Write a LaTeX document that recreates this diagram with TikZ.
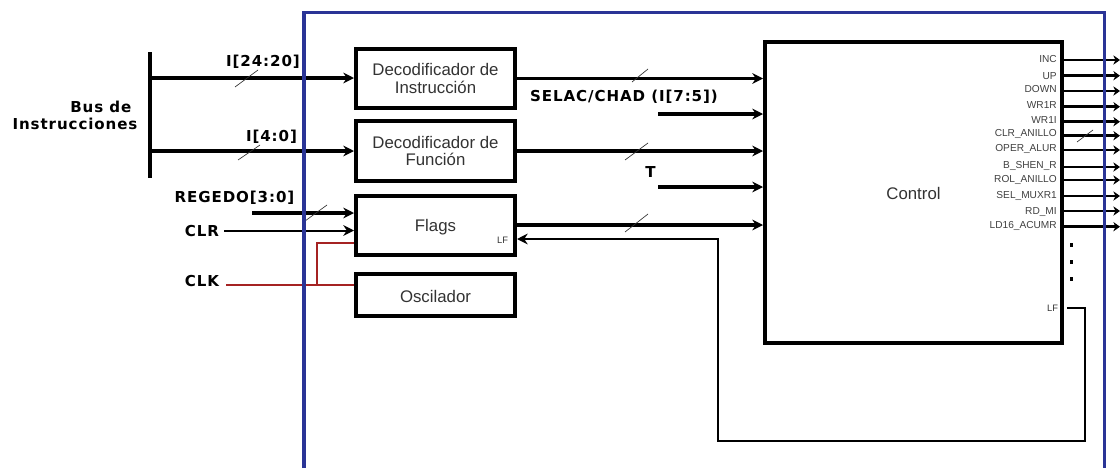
\documentclass[tikz,border=0pt]{standalone}
\usepackage{fontspec}
\setmainfont{Liberation Sans}
\newfontfamily\signalfont[LetterSpace=6]{DejaVu Sans}
\usetikzlibrary{arrows.meta, calc}

\definecolor{chipblue}{RGB}{42,52,150}
\definecolor{clockred}{RGB}{165,35,35}

\tikzset{
    blockbox/.style={draw, line width=3pt, minimum width=119.25pt, inner sep=0pt, align=center, font=\fontsize{12.6}{13.2}\selectfont, text=black!80},
    signal/.style={inner sep=0pt, font=\signalfont\bfseries\fontsize{11.3}{13}\selectfont},
    outlabel/.style={anchor=east, inner sep=0pt, font=\fontsize{7.6}{9}\selectfont, text=black!75},
    smallf/.style={inner sep=0pt, font=\fontsize{7}{8}\selectfont, text=black!80},
    busline/.style={line width=2.8pt, -{Stealth[length=8pt, width=8pt]}},
    thinline/.style={line width=1.5pt, -{Stealth[length=8pt, width=8pt]}},
    clkline/.style={line width=1.5pt, draw=clockred},
    slash/.style={line width=0.5pt, black!80}
}

\begin{document}
\begin{tikzpicture}[x=0.75pt, y=-0.75pt, >=Stealth]
    % ================= Parameters =================
    \def\W{1120}       % Canvas width
    \def\H{468}        % Canvas height
    \def\Xb{304}       % Left side of the chip frame
    \def\Xr{1104.5}    % Right side of the chip frame
    \def\Yt{12.5}      % Top side of the chip frame

    \path[use as bounding box] (0, 0) rectangle (\W, \H);
    \fill[white] (0, 0) rectangle (\W, \H);

    % ================= Blocks =================
    \node[blockbox, minimum height=44.25pt] (dinstr) at (435.5, 78.5) {Decodificador de\\Instrucción};
    \node[blockbox, minimum height=45pt] (dfunc) at (435.5, 151) {Decodificador de\\Función};
    \node[blockbox, minimum height=44.25pt, text height=11pt, text depth=2pt] (flags) at (435.5, 225) {Flags};
    \node[blockbox, minimum height=31.5pt, text height=11pt, text depth=0pt] (osc) at (435.5, 295) {Oscilador};
    \node[blockbox, minimum width=222.75pt, minimum height=226pt, text height=11pt, text depth=0pt] (ctrl) at (913.5, 192.2) {Control};

    \node[smallf] (flagslf) at (502.5, 240.5) {LF};
    \node[smallf] (ctrllf) at (1052.5, 308) {LF};

    % ================= Signal labels =================
    \node[signal, align=right] (busi) at (75, 115.5) {Bus de\hspace*{4.5pt}\\Instrucciones};
    \node[signal] (ihigh) at (263, 62) {I[24:20]};
    \node[signal] (ilow) at (271.5, 137) {I[4:0]};
    \node[signal] (regedo) at (234.5, 197.5) {REGEDO[3:0]};
    \node[signal] (clr) at (202, 231) {CLR};
    \node[signal] (clk) at (202, 281.5) {CLK};
    \node[signal] (selac) at (624, 96.5) {SELAC/CHAD (I[7:5])};
    \node[signal] (tsig) at (650.5, 172) {T};

    % ================= Free ends =================
    \coordinate (busup) at (150, 52);
    \coordinate (busdn) at (150, 178);
    \coordinate (bushigh) at (150, 78);
    \coordinate (buslow) at (150, 151);
    \coordinate (regin) at (252, 213);
    \coordinate (selacin) at (658, 114);
    \coordinate (tin) at (658, 187);
    \coordinate (clkbr) at (317, 285);
    \coordinate (clkup) at (317, 243);
    \coordinate (lfout) at (1067, 308);
    \coordinate (lfr) at (1085, 308);
    \coordinate (lfbr) at (1085, 441);
    \coordinate (lfbl) at (718, 441);
    \coordinate (lftl) at (718, 239);

    % ================= Inputs =================
    \draw[line width=3pt] (busup) -- (busdn);
    \draw[busline] (bushigh) -- (bushigh -| dinstr.west);
    \draw[busline] (buslow) -- (buslow -| dfunc.west);
    \draw[busline] (regin) -- (regin -| flags.west);
    \draw[thinline] (clr.east |- 0, 230.5) ++(5, 0) -- (flags.west |- 0, 230.5);

    \draw[clkline] (226, 285) -- (osc.west |- clkbr);
    \draw[clkline] (clkbr) -- (clkup) -- (flags.west |- clkup);

    % ================= Block outputs =================
    \draw[busline] (dinstr.east) -- (dinstr.east -| ctrl.west);
    \draw[busline] (selacin) -- (selacin -| ctrl.west);
    \draw[busline] (dfunc.east) -- (dfunc.east -| ctrl.west);
    \draw[busline] (tin) -- (tin -| ctrl.west);
    \draw[busline] (flags.east) -- (flags.east -| ctrl.west);
    \draw[thinline] (lfout) -- (lfr) -- (lfbr) -- (lfbl) -- (lftl) -- (lftl -| flags.east);

    % ================= Control outputs =================
    \foreach \Nm/\Yl/\Yw/\Txt in {o1/59/60/INC, o2/75.7/75.7/UP, o3/89/91/DOWN, o4/105/106.7/WR1R,
        o5/120/121.7/WR1I, o6/134/135.7/CLR\_ANILLO, o7/149/150/OPER\_ALUR, o8/166/167/B\_SHEN\_R,
        o9/180/180/ROL\_ANILLO, o10/196/196/SEL\_MUXR1, o11/212/211/RD\_MI, o12/226/226.7/LD16\_ACUMR}{
        \node[outlabel] (\Nm) at (1057, \Yl) {\Txt};
        \coordinate (\Nm w) at (ctrl.east |- 0, \Yw);
        \draw[line width=2.2pt, -{Stealth[length=5pt, width=7pt]}] (\Nm w) -- (\W, \Yw);
    }

    % Continuation dots
    \foreach \Yd in {245, 262, 279}{
        \fill (1069.5, \Yd-1.8) rectangle (1073, \Yd+1.8);
    }

    % ================= Bus width marks =================
    \draw[slash] (235, 87) -- (258, 70);
    \draw[slash] (238, 160) -- (260, 145);
    \draw[slash] (305, 221) -- (327, 205);
    \draw[slash] (632, 82) -- (648, 69);
    \draw[slash] (625, 160) -- (648, 143);
    \draw[slash] (625, 232) -- (648, 214);
    \draw[slash] (1077, 142) -- (1093, 130);

    % ================= Chip frame (open at the bottom) =================
    \draw[line width=2.4pt, draw=chipblue] (\Xb, \H) -- (\Xb, \Yt) -- (\Xr, \Yt) -- (\Xr, \H);

\end{tikzpicture}
\end{document}
